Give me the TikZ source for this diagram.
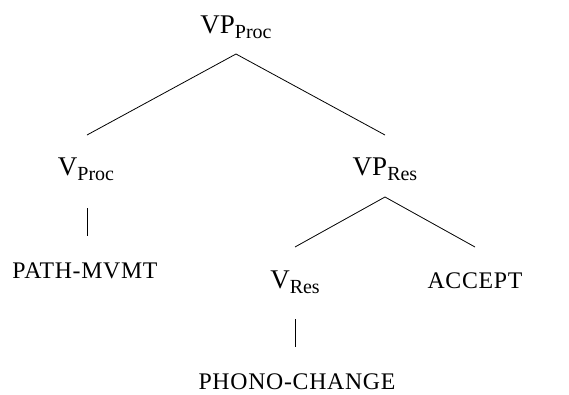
\documentclass[tikz,border=0pt]{standalone}
\usepackage{fontspec}
\setmainfont{Liberation Serif}
\newfontfamily\capsfont[LetterSpace=3]{Liberation Serif}
\newcommand{\subtxt}[1]{\raisebox{-5.5pt}{\fontsize{20}{20}\selectfont #1}}
\begin{document}
\begin{tikzpicture}[x=1pt,y=-1pt,
  cat/.style={inner sep=0pt,anchor=base,font=\fontsize{27}{27}\selectfont},
  leaf/.style={inner sep=0pt,anchor=base,font=\capsfont\fontsize{23.8}{23.8}\selectfont},
  edge/.style={line width=0.8pt}]
\useasboundingbox (0,0) rectangle (569,394);
\node[cat] (top) at (236,33) {VP\subtxt{Proc}};
\node[cat] (vproc) at (86,175) {V\subtxt{Proc}};
\node[cat] (vpres) at (385,175) {VP\subtxt{Res}};
\node[leaf] (path) at (85,278) {PATH-MVMT};
\node[cat] (vres) at (295,288) {V\subtxt{Res}};
\node[leaf] (accept) at (475,288) {ACCEPT};
\node[leaf] (phono) at (297,389) {PHONO-CHANGE};
\draw[edge] ([yshift=-21pt]top.base) -- ([xshift=1pt,yshift=40pt]vproc.base);
\draw[edge] ([yshift=-21pt]top.base) -- ([yshift=40pt]vpres.base);
\draw[edge] ([xshift=1pt,yshift=-33pt]vproc.base) -- ([xshift=2pt,yshift=42pt]path.base);
\draw[edge] ([yshift=-22pt]vpres.base) -- ([yshift=41pt]vres.base);
\draw[edge] ([yshift=-22pt]vpres.base) -- ([yshift=41pt]accept.base);
\draw[edge] ([yshift=-31pt]vres.base) -- ([xshift=-2pt,yshift=42pt]phono.base);
\end{tikzpicture}
\end{document}
